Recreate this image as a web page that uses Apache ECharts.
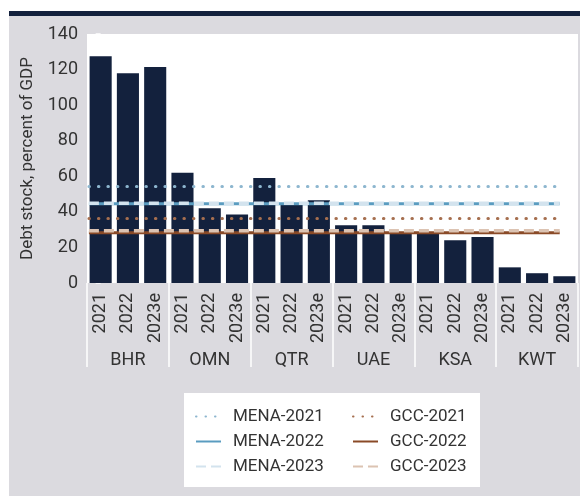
<!DOCTYPE html>
<html>
<head>
<meta charset="utf-8">
<script src="https://cdn.jsdelivr.net/npm/echarts@6/dist/echarts.min.js"></script>
<style>
  html, body { margin: 0; padding: 0; background: #fff; }
  #bg { position: absolute; left: 9px; top: 11px; width: 571px; height: 480px; background: #dbdadf; border-top: 5px solid #13213d; }
  #chart { position: absolute; left: 0; top: 0; width: 580px; height: 496px; }
</style>
</head>
<body>
<div id="bg"></div>
<div id="chart"></div>
<script>
var countries = ['BHR', 'OMN', 'QTR', 'UAE', 'KSA', 'KWT'];
var years = ['2021', '2022', '2023e'];
var debt = [127.5, 118, 121.5, 62, 42, 38.5, 59, 44, 46.5, 32.5, 32.5, 28.5, 28.5, 24, 25.8, 8.8, 5.5, 3.8];

var lineNames = ['MENA-2021', 'MENA-2022', 'MENA-2023', 'GCC-2021', 'GCC-2022', 'GCC-2023'];
var lineValues = [54.3, 44.5, 44.8, 36.3, 28.2, 29.4];
var lineColors = ['#8db6cf', '#5a9cc0', '#d3e3ee', '#a66f4f', '#8a4a27', '#dcc3b2'];

var FONT = "Roboto, 'Liberation Sans', sans-serif";

// year labels for every bar
var yearCats = [];
countries.forEach(function (c) {
  years.forEach(function (y) { yearCats.push(y); });
});

function lineType(name) {
  if (name.indexOf('2021') >= 0) return [0.5, 9];
  if (name.indexOf('2023') >= 0) return [10, 5];
  return 'solid';
}

var lineSeries = lineNames.map(function (name, i) {
  var dotted = name.indexOf('2021') >= 0;
  return {
    name: name,
    type: 'line',
    xAxisIndex: 2,
    symbol: 'none',
    z: 3 + i,
    lineStyle: {
      color: lineColors[i],
      width: dotted ? 3 : (name.indexOf('2023') >= 0 ? 3.5 : 3),
      type: lineType(name),
      cap: dotted ? 'round' : 'butt'
    },
    itemStyle: { color: lineColors[i] },
    data: [[-0.43, lineValues[i]], [16.83, lineValues[i]]]
  };
});

function legendBox(names, left) {
  return {
    data: names,
    orient: 'vertical',
    left: left, top: 408,
    padding: 0,
    itemGap: 8,
    itemWidth: 25, itemHeight: 14,
    itemStyle: { opacity: 0 },
    textStyle: { fontFamily: FONT, fontSize: 17, color: '#333', padding: [0, 0, 0, 7] }
  };
}

var chart = echarts.init(document.getElementById('chart'));
var option = {
  animation: false,
  textStyle: { fontFamily: FONT },
  grid: {
    left: 87, right: 2, top: 34, bottom: 213,
    show: true, backgroundColor: '#fff', borderWidth: 0
  },
  graphic: [{
    type: 'rect', z: 0,
    shape: { x: 184, y: 393, width: 296, height: 94 },
    style: { fill: '#fff' }
  }],
  legend: [legendBox(lineNames.slice(0, 3), 195), legendBox(lineNames.slice(3), 352)],
  xAxis: [{
    type: 'category',
    data: yearCats,
    axisLine: { show: false },
    axisTick: { show: false },
    axisLabel: { rotate: 90, margin: 10, fontSize: 18, color: '#333', fontFamily: FONT, interval: 0 }
  }, {
    type: 'category',
    data: countries,
    position: 'bottom',
    axisLine: { show: false },
    axisTick: { show: true, length: 84, interval: 0, lineStyle: { color: '#fff', width: 1.5 } },
    axisLabel: { margin: 68, fontSize: 18, color: '#333', fontFamily: FONT, interval: 0 }
  }, {
    type: 'value',
    min: -0.5, max: 17.5,
    show: false
  }],
  yAxis: {
    type: 'value',
    min: 0, max: 140, interval: 20,
    name: 'Debt stock, percent of GDP',
    nameLocation: 'middle',
    nameGap: 51,
    nameTextStyle: { fontSize: 17, color: '#333', fontFamily: FONT },
    axisLine: { show: false },
    axisTick: { show: true, length: 5, lineStyle: { color: '#fff', width: 1.5 } },
    splitLine: { show: false },
    axisLabel: { margin: 9, fontSize: 18, color: '#333', fontFamily: FONT }
  },
  series: [{
    name: 'Debt',
    type: 'bar',
    xAxisIndex: 0,
    barCategoryGap: '19%',
    itemStyle: { color: '#13213d' },
    data: debt,
    z: 2
  }].concat(lineSeries)
};
chart.setOption(option);
</script>
</body>
</html>
